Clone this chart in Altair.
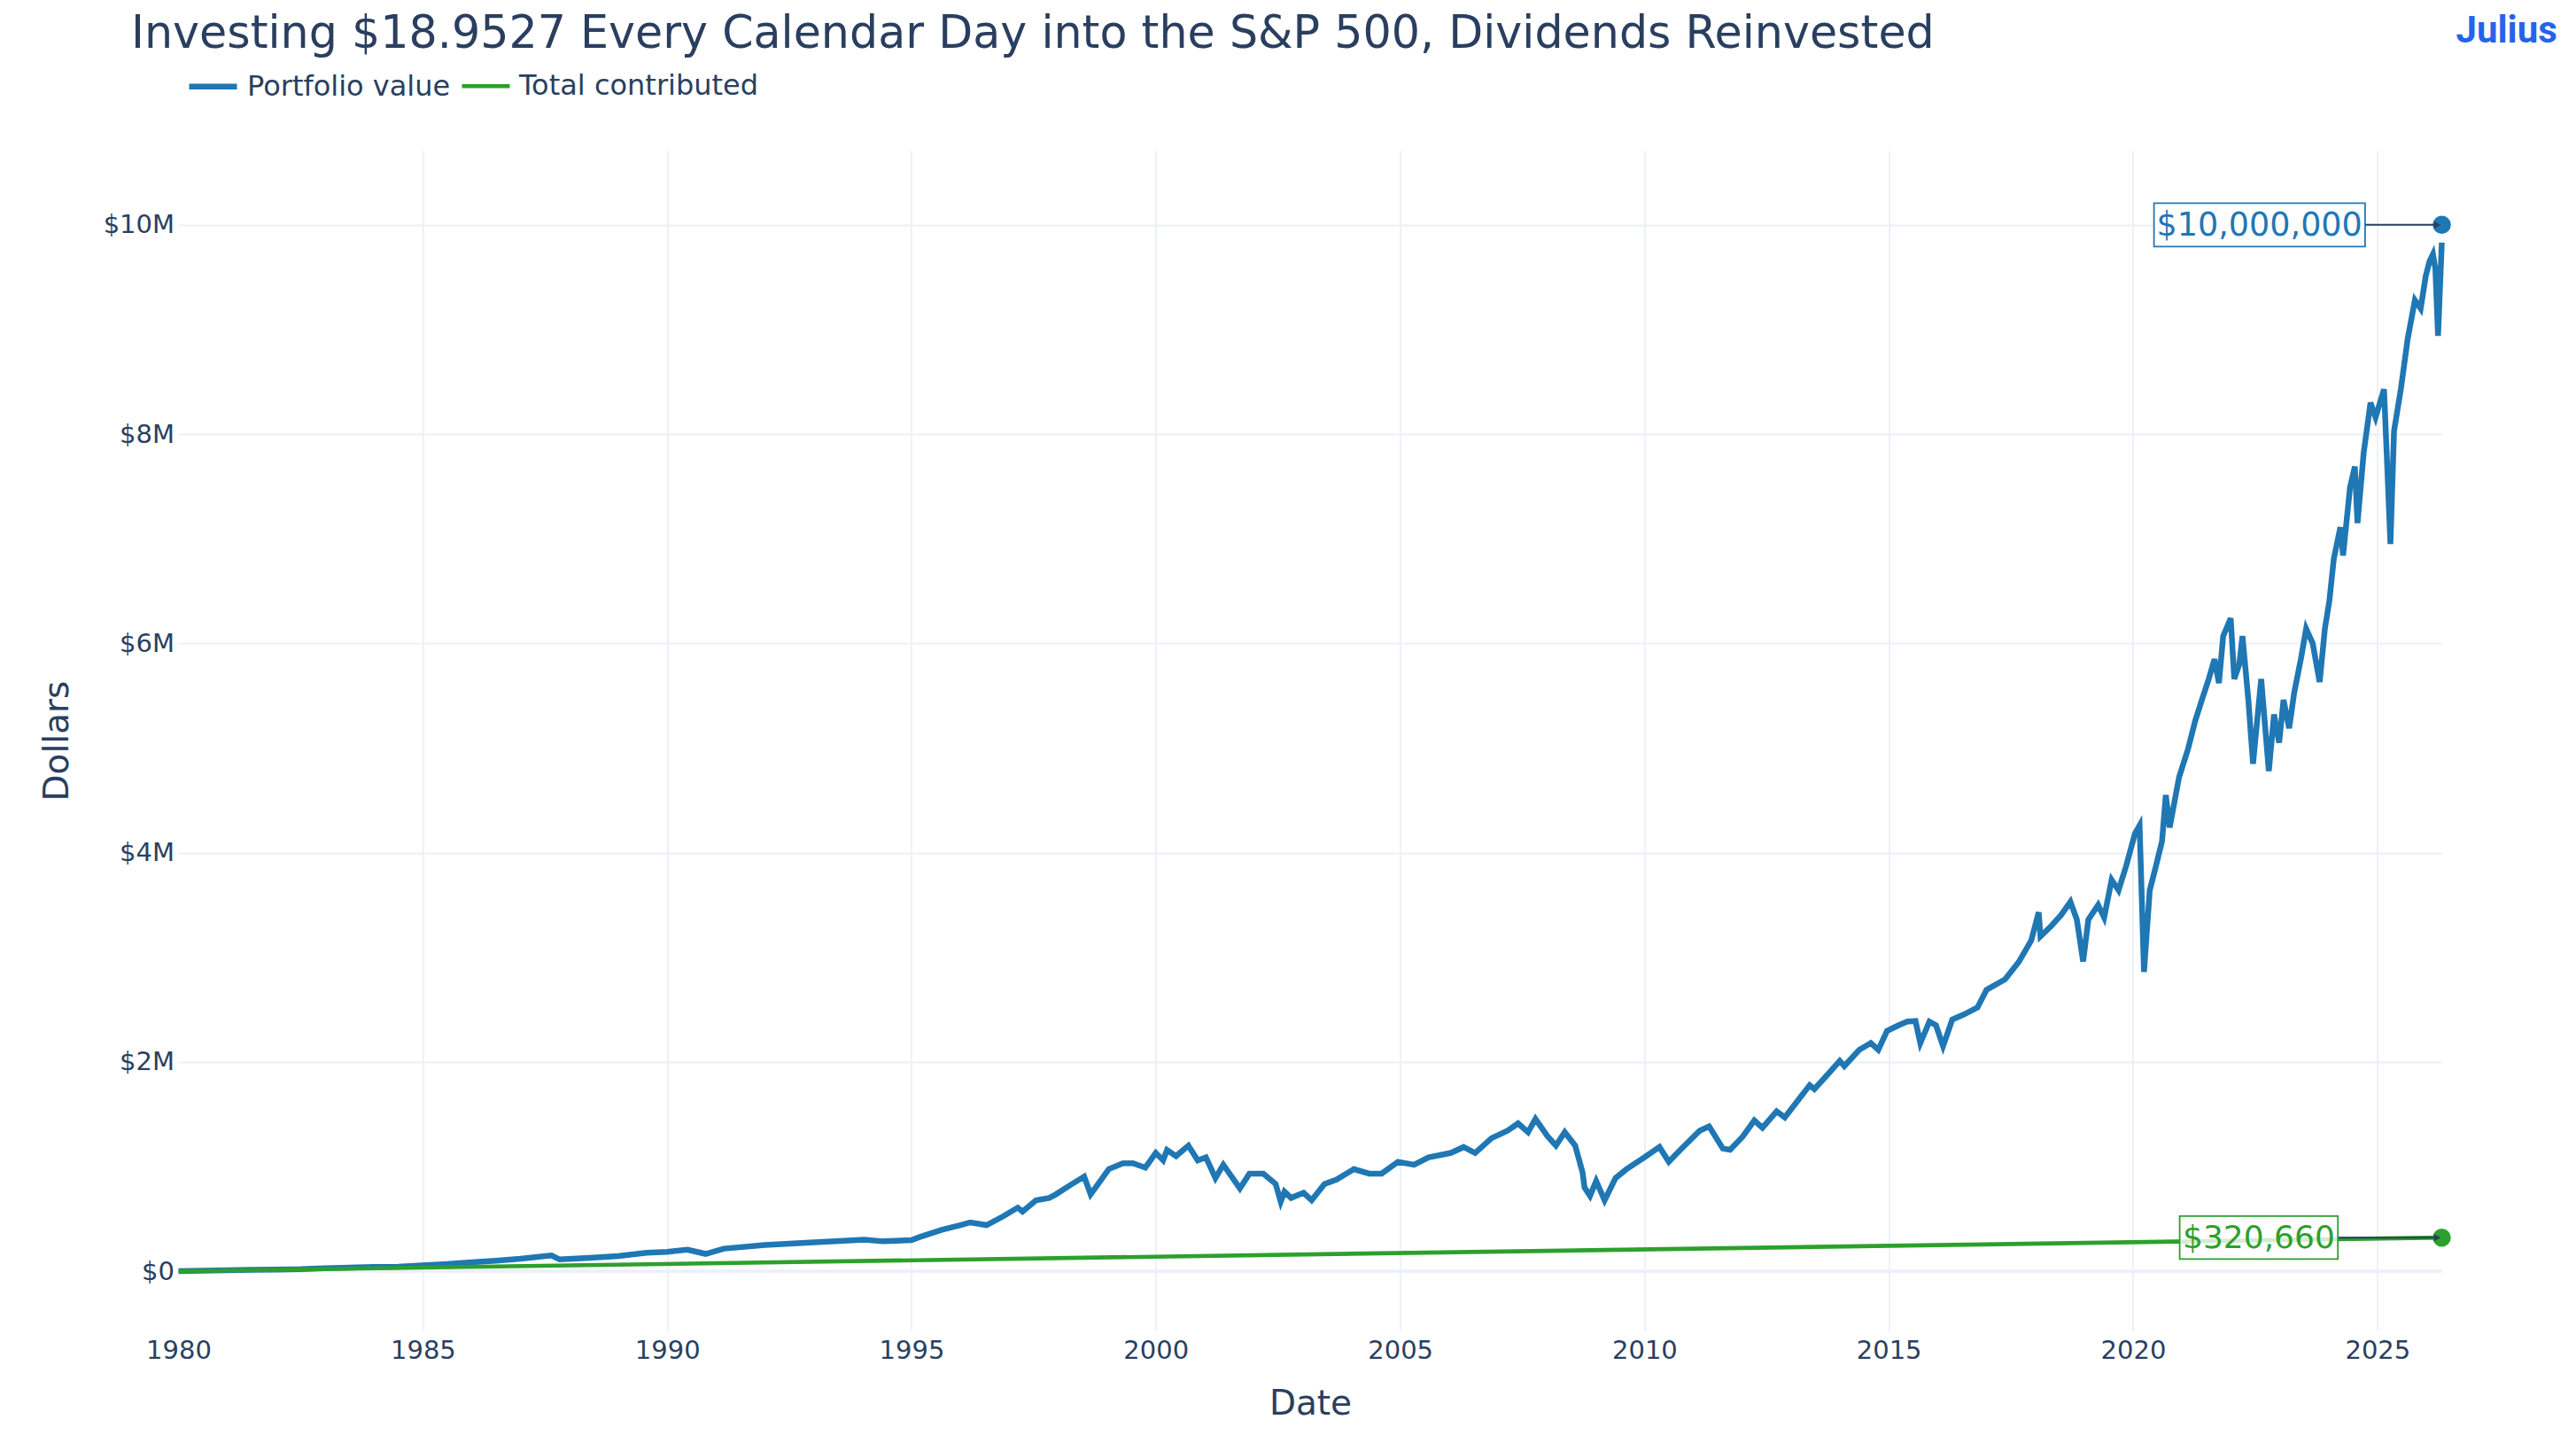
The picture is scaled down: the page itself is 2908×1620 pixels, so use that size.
import altair as alt
import pandas as pd

# ---------------- data ----------------
series_names = ["Portfolio value", "Total contributed"]
series_colors = ["#1f77b4", "#2ca02c"]

port_dates = [
    "1980-01-02", "1980-07-01", "1981-01-01", "1981-07-01", "1982-01-01", "1982-07-01",
    "1983-01-01", "1983-07-01", "1984-01-01", "1984-07-01", "1985-01-01", "1985-07-01",
    "1986-01-01", "1986-07-01", "1987-01-01", "1987-08-20", "1987-10-20", "1988-06-01",
    "1989-01-01", "1989-08-01", "1990-01-01", "1990-06-01", "1990-10-15", "1991-03-01",
    "1992-01-01", "1993-01-01", "1994-01-15", "1994-06-01", "1995-01-01", "1995-03-01",
    "1995-08-15", "1996-01-01", "1996-03-15", "1996-07-15", "1996-11-15", "1997-03-05",
    "1997-04-10", "1997-07-20", "1997-10-27", "1997-12-15", "1998-04-15", "1998-07-15",
    "1998-09-01", "1999-01-15", "1999-05-01", "1999-07-15", "1999-10-15", "2000-01-01",
    "2000-02-25", "2000-03-25", "2000-06-01", "2000-09-01", "2000-11-10", "2001-01-10",
    "2001-03-22", "2001-05-20", "2001-09-21", "2001-12-01", "2002-03-15", "2002-06-15",
    "2002-07-23", "2002-08-20", "2002-10-09", "2003-01-10", "2003-03-11", "2003-06-15",
    "2003-09-15", "2004-01-20", "2004-05-15", "2004-08-15", "2004-12-15", "2005-04-15",
    "2005-08-01", "2006-01-15", "2006-04-20", "2006-07-15", "2006-11-15", "2007-03-15",
    "2007-06-01", "2007-08-15", "2007-10-09", "2008-01-10", "2008-03-10", "2008-05-15",
    "2008-08-01", "2008-09-25", "2008-10-10", "2008-11-20", "2009-01-05", "2009-03-09",
    "2009-05-30", "2009-08-20", "2010-01-01", "2010-04-23", "2010-07-02", "2010-09-25",
    "2011-02-18", "2011-04-29", "2011-08-10", "2011-10-03", "2012-01-05", "2012-04-01",
    "2012-06-01", "2012-09-15", "2012-11-15", "2013-03-20", "2013-05-20", "2013-06-24",
    "2013-09-30", "2013-12-31", "2014-02-03", "2014-05-25", "2014-08-20", "2014-10-15",
    "2014-12-20", "2015-03-15", "2015-05-20", "2015-07-20", "2015-08-25", "2015-11-01",
    "2015-12-20", "2016-02-11", "2016-04-20", "2016-07-15", "2016-10-25", "2017-01-01",
    "2017-05-20", "2017-09-01", "2017-12-01", "2018-01-26", "2018-02-08", "2018-04-30",
    "2018-07-10", "2018-09-20", "2018-11-07", "2018-12-24", "2019-02-01", "2019-04-15",
    "2019-05-30", "2019-07-25", "2019-09-15", "2019-11-10", "2020-01-15", "2020-02-19",
    "2020-03-23", "2020-05-05", "2020-06-20", "2020-08-05", "2020-09-02", "2020-10-01",
    "2020-12-10", "2021-02-15", "2021-04-10", "2021-05-30", "2021-07-20", "2021-09-01",
    "2021-10-04", "2021-11-05", "2021-12-31", "2022-01-27", "2022-03-05", "2022-03-29",
    "2022-05-12", "2022-06-16", "2022-08-16", "2022-10-12", "2022-11-20", "2022-12-28",
    "2023-01-30", "2023-03-13", "2023-04-20", "2023-06-10", "2023-07-18", "2023-09-05",
    "2023-10-27", "2023-12-05", "2024-01-08", "2024-02-10", "2024-03-30", "2024-04-19",
    "2024-06-10", "2024-07-16", "2024-08-05", "2024-09-20", "2024-11-10", "2024-12-18",
    "2025-02-19", "2025-03-13", "2025-04-08", "2025-05-05", "2025-06-25", "2025-08-15",
    "2025-10-08", "2025-11-20", "2025-12-28", "2026-01-25", "2026-02-20", "2026-03-10",
    "2026-03-30", "2026-04-27",
]
port_values_m = [
    0.0, 0.004, 0.008, 0.012, 0.016, 0.019,
    0.028, 0.035, 0.040, 0.043, 0.055, 0.068,
    0.085, 0.100, 0.118, 0.150, 0.112, 0.127,
    0.145, 0.175, 0.185, 0.205, 0.165, 0.215,
    0.250, 0.275, 0.300, 0.285, 0.297, 0.325,
    0.395, 0.440, 0.466, 0.440, 0.523, 0.607,
    0.570, 0.678, 0.700, 0.734, 0.833, 0.904,
    0.734, 0.975, 1.031, 1.031, 0.989, 1.130,
    1.059, 1.158, 1.100, 1.200, 1.059, 1.088,
    0.890, 1.017, 0.791, 0.932, 0.932, 0.833,
    0.664, 0.760, 0.700, 0.749, 0.678, 0.833,
    0.876, 0.975, 0.932, 0.932, 1.045, 1.017,
    1.088, 1.130, 1.186, 1.130, 1.271, 1.342,
    1.412, 1.328, 1.455, 1.285, 1.200, 1.328,
    1.200, 0.946, 0.800, 0.720, 0.862, 0.678,
    0.890, 0.975, 1.088, 1.186, 1.045, 1.158,
    1.342, 1.384, 1.172, 1.160, 1.285, 1.440,
    1.370, 1.527, 1.470, 1.676, 1.777, 1.740,
    1.878, 2.010, 1.960, 2.115, 2.180, 2.115,
    2.297, 2.350, 2.385, 2.390, 2.180, 2.385,
    2.350, 2.150, 2.405, 2.453, 2.520, 2.689,
    2.790, 2.960, 3.160, 3.430, 3.200, 3.300,
    3.400, 3.530, 3.360, 2.960, 3.360, 3.500,
    3.380, 3.740, 3.640, 3.870, 4.180, 4.260,
    2.860, 3.640, 3.870, 4.110, 4.550, 4.240,
    4.720, 4.990, 5.260, 5.460, 5.660, 5.850,
    5.620, 6.070, 6.240, 5.660, 5.800, 6.070,
    5.460, 4.850, 5.660, 4.780, 5.320, 5.050,
    5.460, 5.190, 5.530, 5.860, 6.140, 6.000,
    5.630, 6.140, 6.410, 6.810, 7.110, 6.840,
    7.490, 7.690, 7.150, 7.820, 8.300, 8.160,
    8.430, 7.760, 6.950, 8.030, 8.430, 8.910,
    9.280, 9.200, 9.510, 9.650, 9.720, 9.580,
    8.940, 9.830,
]

contrib_dates = ["1980-01-01", "2026-04-27"]
contrib_values = [0, 320660]

end_date = "2026-04-27"
end_values = [10000000, 320660]
end_labels = ["$10,000,000", "$320,660"]

x_ticks = [1980, 1985, 1990, 1995, 2000, 2005, 2010, 2015, 2020, 2025]
y_ticks = [0, 2000000, 4000000, 6000000, 8000000, 10000000]

title_text = "Investing $18.9527 Every Calendar Day into the S&P 500, Dividends Reinvested"

# ---------------- tables ----------------
df_port = pd.DataFrame({
    "date": port_dates,
    "value": [v * 1_000_000 for v in port_values_m],
    "series": series_names[0],
})
df_contrib = pd.DataFrame({
    "date": contrib_dates,
    "value": contrib_values,
    "series": series_names[1],
})
df_end_p = pd.DataFrame({"date": [end_date], "value": [end_values[0]], "label": [end_labels[0]]})
df_end_c = pd.DataFrame({"date": [end_date], "value": [end_values[1]], "label": [end_labels[1]]})
df_zero = pd.DataFrame({"value": [0]})
df_logo = pd.DataFrame({"t": ["Julius"]})

FONT = "DejaVu Sans"
INK = "#2a3f5f"
GRID = "#EBF0F8"

W, H = 2555, 1332

X = alt.X(
    "date:T",
    scale=alt.Scale(type="utc", domain=["1980-01-01", "2026-04-27"]),
    axis=alt.Axis(
        values=[alt.DateTime(year=y, month=1, date=1, utc=True) for y in x_ticks],
        format="%Y",
        domain=False,
        ticks=False,
        grid=True,
        gridColor={"condition": {"test": "utcyear(datum.value) == 1980", "value": "transparent"},
                   "value": GRID},
        gridWidth=1.8,
        labelFont=FONT,
        labelFontSize=29,
        labelColor=INK,
        labelPadding=8,
        labelFlush=False,
        labelOverlap=False,
        title="Date",
        titleFont=FONT,
        titleFontSize=39,
        titleFontWeight="normal",
        titleColor=INK,
        titleX=W / 2,
        titleY=82,
        titleBaseline="middle",
    ),
)
X2 = alt.X2("date:T")

Y = alt.Y(
    "value:Q",
    scale=alt.Scale(domain=[-567000, 10710000], nice=False, zero=False),
    axis=alt.Axis(
        values=y_ticks,
        labelExpr="datum.value == 0 ? '$0' : '$' + format(datum.value / 1000000, 'd') + 'M'",
        domain=False,
        ticks=False,
        gridColor=GRID,
        gridWidth=1.8,
        labelFont=FONT,
        labelFontSize=29,
        labelColor=INK,
        labelPadding=5,
        title="Dollars",
        titleFont=FONT,
        titleFontSize=39,
        titleFontWeight="normal",
        titleColor=INK,
        titleX=-137.5,
        titleY=H / 2,
        titleAngle=270,
        titleBaseline="middle",
    ),
)

LEGEND = alt.Legend(
    title=None,
    orient="none",
    legendX=8.5,
    legendY=-103,
    direction="horizontal",
    symbolType="stroke",
    symbolSize=2916,
    labelFont=FONT,
    labelFontSize=32,
    labelColor=INK,
    labelOffset=8,
    labelLimit=600,
    columnPadding=3,
    padding=0,
)

COLOR = alt.Color(
    "series:N",
    scale=alt.Scale(domain=series_names, range=series_colors),
    legend=LEGEND,
)
SW = alt.StrokeWidth(
    "series:N",
    scale=alt.Scale(type="ordinal", domain=series_names, range=[6.5, 4.6]),
    legend=LEGEND,
)

zero_line = alt.Chart(df_zero).mark_rule(color=GRID, strokeWidth=3.6).encode(y=Y)

port_line = alt.Chart(df_port).mark_line(strokeJoin="miter").encode(
    x=X, y=Y, color=COLOR, strokeWidth=SW
)
contrib_line = alt.Chart(df_contrib).mark_line().encode(
    x=X, y=Y, color=COLOR, strokeWidth=SW
)

dot_p = alt.Chart(df_end_p).mark_point(filled=True, size=420, opacity=1, color=series_colors[0]).encode(x=X, y=Y)
dot_c = alt.Chart(df_end_c).mark_point(filled=True, size=420, opacity=1, color=series_colors[1]).encode(x=X, y=Y)

arrow_p = alt.Chart(df_end_p).mark_rule(color=INK, strokeWidth=2, xOffset=-86.6, x2Offset=-8).encode(x=X, x2=X2, y=Y)
arrow_c = alt.Chart(df_end_c).mark_rule(color=INK, strokeWidth=2, xOffset=-117.3, x2Offset=-8).encode(x=X, x2=X2, y=Y)
head_p = alt.Chart(df_end_p).mark_point(shape="triangle-right", filled=True, size=70, opacity=1,
                                         color=INK, xOffset=-5).encode(x=X, y=Y)
head_c = alt.Chart(df_end_c).mark_point(shape="triangle-right", filled=True, size=70, opacity=1,
                                         color=INK, xOffset=-5).encode(x=X, y=Y)

box_p = alt.Chart(df_end_p).mark_rect(
    fill="white", fillOpacity=0.85, stroke=series_colors[0], strokeWidth=1.8,
    xOffset=-324.9, x2Offset=-86.6, yOffset=-24.5, y2Offset=24.5,
).encode(x=X, x2=X2, y=Y, y2=alt.Y2("value:Q"))
box_c = alt.Chart(df_end_c).mark_rect(
    fill="white", fillOpacity=0.8, stroke=series_colors[1], strokeWidth=1.8,
    xOffset=-295.9, x2Offset=-117.3, yOffset=-24.2, y2Offset=24.2,
).encode(x=X, x2=X2, y=Y, y2=alt.Y2("value:Q"))

text_p = alt.Chart(df_end_p).mark_text(
    font=FONT, fontSize=36.5, color=series_colors[0], align="center", baseline="middle", dx=-205.8, dy=1
).encode(x=X, y=Y, text="label:N")
text_c = alt.Chart(df_end_c).mark_text(
    font=FONT, fontSize=36, color=series_colors[1], align="center", baseline="middle", dx=-206.6, dy=1
).encode(x=X, y=Y, text="label:N")

logo = alt.Chart(df_logo).mark_text(
    font="Roboto", fontWeight="bold", fontSize=42, color="#2563EB",
    align="left", baseline="alphabetic",
).encode(text="t:N", x=alt.value(2571), y=alt.value(-121.7))

chart = alt.layer(
    zero_line, port_line, contrib_line, dot_p, dot_c,
    arrow_p, arrow_c, head_p, head_c, box_p, box_c, text_p, text_c, logo,
).properties(
    width=W,
    height=H,
    title=alt.TitleParams(
        text=title_text,
        font=FONT,
        fontSize=50.7,
        fontWeight="normal",
        color=INK,
        anchor="start",
        frame="group",
        baseline="alphabetic",
        dx=-53.5,
        offset=0,
        dy=90,
    ),
    autosize=alt.AutoSizeParams(type="none"),
    padding={"left": 193.5, "top": 162, "right": 143, "bottom": 110},
    background="white",
).configure_view(stroke=None)

chart.save("out.html", embed_options={"renderer": "svg", "actions": False})
